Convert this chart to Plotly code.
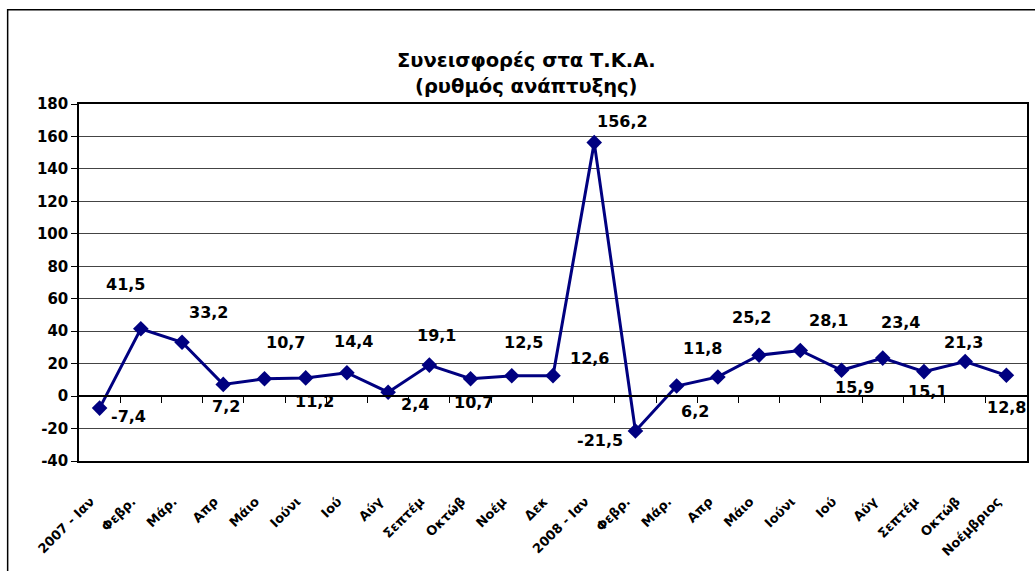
import plotly.graph_objects as go

# ---- data ----
categories = ["2007 - Ιαν", "Φεβρ.", "Μάρ.", "Απρ", "Μάιο", "Ιούνι", "Ιού", "Αύγ",
              "Σεπτέμ", "Οκτώβ", "Νοέμ", "Δεκ", "2008 - Ιαν", "Φεβρ.", "Μάρ.", "Απρ",
              "Μάιο", "Ιούνι", "Ιού", "Αύγ", "Σεπτέμ", "Οκτώβ", "Νοέμβριος"]
values = [-7.4, 41.5, 33.2, 7.2, 10.7, 11.2, 14.4, 2.4, 19.1, 10.7, 12.5, 12.6,
          156.2, -21.5, 6.2, 11.8, 25.2, 28.1, 15.9, 23.4, 15.1, 21.3, 12.8]
y_ticks = [-40, -20, 0, 20, 40, 60, 80, 100, 120, 140, 160, 180]
title_line1 = "Συνεισφορές στα Τ.Κ.Α."
title_line2 = "(ρυθμός ανάπτυξης)"

# ---- styling (label offsets in pixels: right, up) ----
label_dx = [29, -15, 26, 3, 21, 9, 7, 27, 7, 3, 12, 36, 28, -35, 18, -15, -8, 28, 13, 18, 4, -2, 0]
label_dy = [-8, 44, 30, -22, 36, -24, 31, -12, 30, -24, 33, 17, 21, -10, -25, 28, 38, 30, -17, 36, -20, 19, -32]

FONT = "DejaVu Sans"
NAVY = "#000080"

x_idx = list(range(len(categories)))
y_min, y_max = y_ticks[0], y_ticks[-1]

fig = go.Figure()
fig.add_trace(go.Scatter(
    x=x_idx, y=values, mode="lines+markers",
    line=dict(color=NAVY, width=3),
    marker=dict(symbol="diamond", size=12, color=NAVY),
    hoverinfo="skip", showlegend=False,
))
# invisible companion trace so the zero-crossing category axis (x2) is drawn
fig.add_trace(go.Scatter(
    x=x_idx, y=values, xaxis="x2", mode="markers",
    marker=dict(opacity=0), hoverinfo="skip", showlegend=False,
))

annotations = []
for i, v in enumerate(values):
    annotations.append(dict(
        x=i, y=v, xref="x", yref="y",
        text=f"<b>{v:.1f}</b>".replace(".", ","),
        showarrow=False, xshift=label_dx[i], yshift=label_dy[i],
        font=dict(family=FONT, size=16, color="black"),
    ))

annotations.append(dict(
    x=(527 - 79) / 950, y=(461.5 - 47) / 357.5, xref="paper", yref="paper",
    text=f"<b>{title_line1}</b>", showarrow=False,
    font=dict(family=FONT, size=19.5, color="black"),
))
annotations.append(dict(
    x=(527 - 79) / 950, y=(461.5 - 73) / 357.5, xref="paper", yref="paper",
    text=f"<b>{title_line2}</b>", showarrow=False,
    font=dict(family=FONT, size=19.5, color="black"),
))

fig.update_layout(
    width=1035, height=571,
    margin=dict(l=79, r=6, t=104, b=110),
    paper_bgcolor="white", plot_bgcolor="white",
    annotations=annotations,
    xaxis=dict(
        range=[-0.5, len(categories) - 0.5],
        tickmode="array", tickvals=x_idx,
        ticktext=[f"<b>{c}</b>" for c in categories],
        tickangle=-45, ticks="", showgrid=False, zeroline=False,
        ticklabelstandoff=26, ticklabelshift=-9,
        showline=True, linecolor="black", linewidth=1.5, mirror=True,
        tickfont=dict(family=FONT, size=13, color="black"),
    ),
    xaxis2=dict(
        overlaying="x", anchor="free",
        position=(0 - y_min) / (y_max - y_min),
        range=[-0.5, len(categories) - 0.5],
        tickmode="array", tickvals=[i + 0.5 for i in x_idx[:-1]],
        ticks="outside", ticklen=6, tickcolor="black", tickwidth=1,
        showticklabels=False, showgrid=False, zeroline=False,
        showline=True, linecolor="black", linewidth=1.5, side="bottom",
    ),
    yaxis=dict(
        range=[y_min, y_max],
        tickmode="array", tickvals=y_ticks,
        ticktext=[f"<b>{t}</b>" for t in y_ticks],
        ticks="outside", ticklen=6, tickcolor="black",
        showgrid=True, gridcolor="#444444", gridwidth=1,
        zeroline=False,
        showline=True, linecolor="black", linewidth=1.5, mirror=True,
        tickfont=dict(family=FONT, size=15, color="black"),
    ),
    shapes=[dict(
        type="rect", xref="paper", yref="paper",
        x0=(7.5 - 79) / 950, x1=1.2,
        y0=-0.6, y1=(461.5 - 9.5) / 357.5,
        line=dict(color="black", width=1.5), layer="below",
    )],
)

fig.write_html("out.html", config={"displayModeBar": False},
               post_script="document.body.style.margin='0';")
